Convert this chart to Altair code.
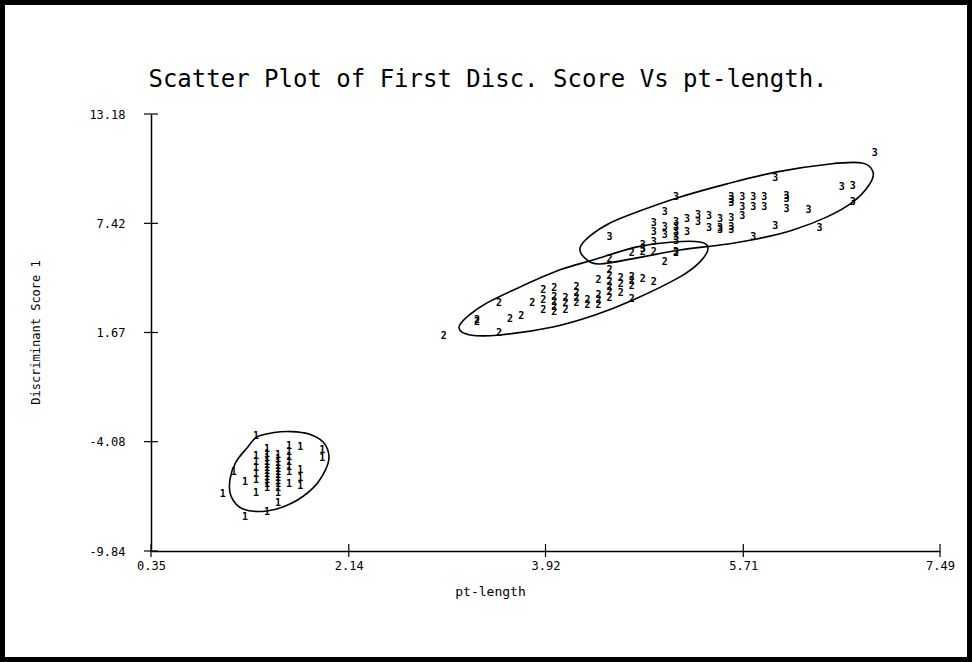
import altair as alt
import pandas as pd

# ---------------- data ----------------
x_ticks = [0.35, 2.14, 3.92, 5.71, 7.49]
y_ticks = [13.18, 7.42, 1.67, -4.08, -9.84]
title_text = ["Scatter Plot of First Disc. Score Vs pt-length."]

setosa_pl = [1.0, 1.1, 1.2, 1.2,
             1.3, 1.3, 1.3, 1.3, 1.3, 1.3, 1.3,
             1.4, 1.4, 1.4, 1.4, 1.4, 1.4, 1.4, 1.4, 1.4, 1.4, 1.4, 1.4, 1.4,
             1.5, 1.5, 1.5, 1.5, 1.5, 1.5, 1.5, 1.5, 1.5, 1.5, 1.5, 1.5, 1.5,
             1.6, 1.6, 1.6, 1.6, 1.6, 1.6, 1.6,
             1.7, 1.7, 1.7, 1.7, 1.9, 1.9]
setosa_ds = [-6.84, -5.68, -6.20, -8.05,
             -3.78, -4.83, -5.15, -5.47, -5.78, -6.10, -6.78,
             -4.47, -4.73, -4.94, -5.15, -5.31, -5.47, -5.63, -5.78, -5.94, -6.10, -6.31, -6.52, -7.79,
             -4.78, -4.99, -5.20, -5.36, -5.52, -5.68, -5.84, -5.99, -6.15, -6.31, -6.52, -6.78, -7.31,
             -4.31, -4.62, -4.89, -5.15, -5.41, -5.68, -6.31,
             -4.36, -5.57, -5.99, -6.42, -4.52, -4.94]

versi_pl = [3.0, 3.3, 3.3, 3.5, 3.5, 3.6, 3.7, 3.8, 3.9, 3.9, 3.9,
            4.0, 4.0, 4.0, 4.0, 4.0, 4.1, 4.1, 4.1, 4.2, 4.2, 4.2, 4.2,
            4.3, 4.3, 4.4, 4.4, 4.4, 4.4,
            4.5, 4.5, 4.5, 4.5, 4.5, 4.5, 4.5, 4.6, 4.6, 4.6,
            4.7, 4.7, 4.7, 4.7, 4.7, 4.8, 4.8, 4.9, 4.9, 5.0, 5.1]
versi_ds = [1.49, 2.23, 2.33, 3.23, 1.65, 2.38, 2.54, 3.23, 3.91, 3.38, 2.86,
            4.02, 3.54, 3.28, 3.02, 2.75, 3.49, 3.23, 2.86, 4.07, 3.75, 3.49, 3.23,
            3.38, 3.12, 4.44, 3.65, 3.38, 3.12,
            5.54, 4.97, 4.65, 4.33, 4.07, 3.81, 3.49, 4.54, 4.23, 3.75,
            5.86, 4.60, 4.39, 4.12, 3.44, 5.91, 4.49, 5.91, 4.33, 5.39, 5.86]

virg_pl = [4.5, 4.8, 4.8, 4.9, 4.9, 4.9, 5.0, 5.0, 5.0,
           5.1, 5.1, 5.1, 5.1, 5.1, 5.1, 5.1, 5.2, 5.2, 5.3, 5.3, 5.4, 5.4,
           5.5, 5.5, 5.5, 5.6, 5.6, 5.6, 5.6, 5.6, 5.6,
           5.7, 5.7, 5.7, 5.8, 5.8, 5.8, 5.9, 5.9, 6.0, 6.0,
           6.1, 6.1, 6.1, 6.3, 6.4, 6.6, 6.7, 6.7, 6.9]
virg_ds = [6.70, 6.07, 6.28, 7.44, 6.97, 6.44, 8.02, 7.23, 6.81,
           8.81, 7.49, 7.23, 6.97, 6.70, 6.49, 5.91, 7.65, 6.97, 7.86, 7.49, 7.81, 7.18,
           7.65, 7.18, 7.07, 8.81, 8.65, 8.50, 7.70, 7.23, 7.07,
           8.81, 8.28, 7.81, 8.81, 8.28, 6.70, 8.81, 8.28, 9.81, 7.28,
           8.86, 8.71, 8.18, 8.13, 7.18, 9.34, 9.39, 8.55, 11.13]

# ellipse outlines
ell1_x = [1.309, 1.463, 1.620, 1.780, 1.907, 1.960, 1.930, 1.820, 1.626, 1.400, 1.183, 1.074, 1.065, 1.119, 1.219]
ell1_y = [-3.83, -3.60, -3.55, -3.68, -4.10, -4.80, -5.55, -6.50, -7.31, -7.73, -7.63, -6.95, -6.05, -5.15, -4.41]

ell2_x = [3.137, 3.237, 3.508, 3.988, 4.368, 4.712, 5.137, 5.318, 5.391, 5.318, 5.074, 4.748, 4.350, 4.051, 3.690, 3.391, 3.210]
ell2_y = [1.91, 1.54, 1.54, 1.96, 2.59, 3.38, 4.60, 5.39, 6.12, 6.44, 6.44, 6.18, 5.49, 4.97, 4.07, 3.23, 2.49]

ell3_x = [4.232, 4.287, 4.413, 4.748, 5.137, 5.499, 5.834, 6.160, 6.468, 6.703, 6.848, 6.884, 6.784, 6.495, 6.015, 5.563, 5.110, 4.748, 4.504, 4.323]
ell3_y = [6.12, 5.54, 5.28, 5.60, 6.02, 6.28, 6.60, 7.07, 7.76, 8.55, 9.44, 10.13, 10.60, 10.55, 10.13, 9.50, 8.76, 8.02, 7.44, 6.76]

# ---------------- tables ----------------
pts = pd.DataFrame({
    "pl": setosa_pl + versi_pl + virg_pl,
    "ds": setosa_ds + versi_ds + virg_ds,
    "lab": ["1"] * len(setosa_pl) + ["2"] * len(versi_pl) + ["3"] * len(virg_pl),
})

rows = []
for g, (ex, ey) in enumerate([(ell1_x, ell1_y), (ell2_x, ell2_y), (ell3_x, ell3_y)]):
    for i, (a, b) in enumerate(zip(ex, ey)):
        rows.append({"g": g, "o": i, "ex": a, "ey": b})
ell = pd.DataFrame(rows)

xt = pd.DataFrame({"t": x_ticks})
yt = pd.DataFrame({"t": y_ticks})
tt = pd.DataFrame({"txt": title_text})

W, H = 789, 437
FONT = "DejaVu Sans Mono"

xs = alt.Scale(domain=[0.35, 7.49], nice=False, zero=False)
ys = alt.Scale(domain=[-9.84, 13.18], nice=False, zero=False)

lab_expr = "datum.value < 0 ? '-' + format(-datum.value, '.2f') : format(datum.value, '.2f')"

x_axis = alt.Axis(values=x_ticks, labelExpr=lab_expr, ticks=False, grid=False,
                  domainColor="black", domainWidth=1.5,
                  labelFont=FONT, labelFontSize=12, labelColor="black", labelPadding=9,
                  labelFlush=False,
                  title="pt-length", titleFont=FONT, titleFontSize=13, titleFontWeight="normal",
                  titleColor="black", titleX=339, titleY=40, titleBaseline="middle", titleAlign="center")
y_axis = alt.Axis(values=y_ticks, labelExpr=lab_expr, ticks=False, grid=False,
                  domainColor="black", domainWidth=1.5,
                  labelFont=FONT, labelFontSize=12, labelColor="black", labelPadding=26,
                  labelFlush=False,
                  title="Discriminant Score 1", titleFont=FONT, titleFontSize=12, titleFontWeight="normal",
                  titleColor="black", titleX=-116, titleY=218, titleAngle=-90,
                  titleBaseline="middle", titleAlign="center")

points = alt.Chart(pts).mark_text(font=FONT, fontSize=10, fontWeight="bold", color="black",
                                  baseline="middle", align="center").encode(
    x=alt.X("pl:Q", scale=xs, axis=x_axis),
    y=alt.Y("ds:Q", scale=ys, axis=y_axis),
    text="lab:N",
)

ellipses = alt.Chart(ell).mark_line(interpolate="cardinal-closed", color="black", strokeWidth=1.6).encode(
    x=alt.X("ex:Q", scale=xs),
    y=alt.Y("ey:Q", scale=ys),
    detail="g:N",
    order="o:Q",
)

xtick_marks = alt.Chart(xt).mark_rule(color="black", strokeWidth=1.2).encode(
    x=alt.X("t:Q", scale=xs),
    y=alt.value(H - 7),
    y2=alt.value(H + 6),
)
ytick_marks = alt.Chart(yt).mark_rule(color="black", strokeWidth=1.2).encode(
    y=alt.Y("t:Q", scale=ys),
    x=alt.value(-7),
    x2=alt.value(7),
)

title_mark = alt.Chart(tt).mark_text(font=FONT, fontSize=24, color="black",
                                     align="center", baseline="alphabetic").encode(
    x=alt.value(337),
    y=alt.value(-27),
    text="txt:N",
)

frame = alt.Chart(xt).mark_rect(filled=False, stroke="black", strokeWidth=5).encode(
    x=alt.value(-148.5),
    x2=alt.value(W + 29.5),
    y=alt.value(-111.5),
    y2=alt.value(H + 108.5),
)

chart = alt.layer(ellipses, points, xtick_marks, ytick_marks, title_mark, frame).properties(
    width=W,
    height=H,
    autosize="none",
    padding={"left": 151, "top": 114, "right": 32, "bottom": 111},
).configure(
    background="white",
    view=alt.ViewConfig(stroke="transparent", strokeWidth=0),
)

chart.save("out.html", embed_options={"renderer": "svg", "actions": False})
